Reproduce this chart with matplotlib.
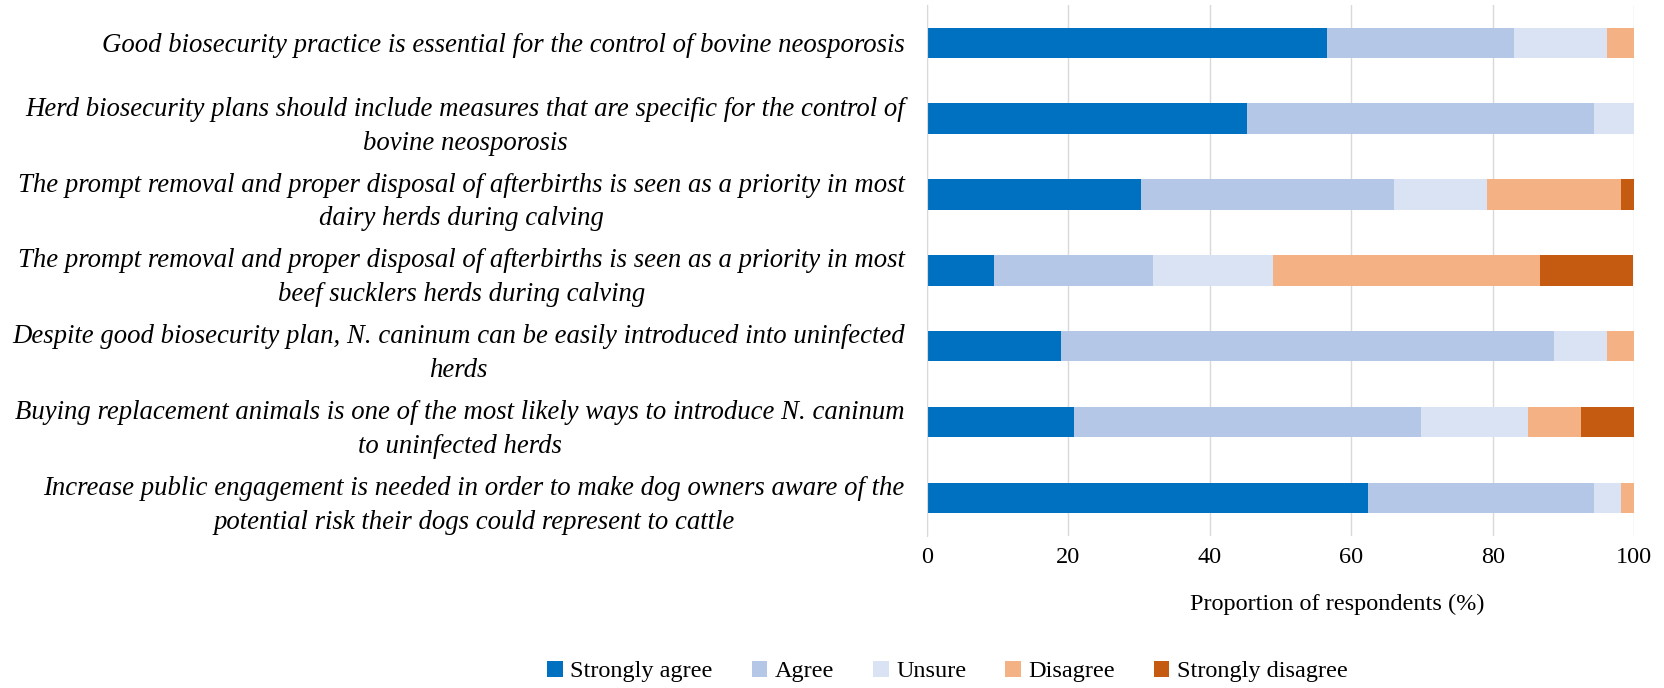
import numpy as np
import matplotlib.pyplot as plt
from matplotlib.patches import Patch

statements = [
    'Good biosecurity practice is essential for the control of bovine neosporosis',
    'Herd biosecurity plans should include measures that are specific for the control of\nbovine neosporosis',
    'The prompt removal and proper disposal of afterbirths is seen as a priority in most\ndairy herds during calving',
    'The prompt removal and proper disposal of afterbirths is seen as a priority in most\nbeef sucklers herds during calving',
    'Despite good biosecurity plan, N. caninum can be easily introduced into uninfected\nherds',
    'Buying replacement animals is one of the most likely ways to introduce N. caninum\nto uninfected herds',
    'Increase public engagement is needed in order to make dog owners aware of the\npotential risk their dogs could represent to cattle',
]

strongly_agree = [56.6, 45.3, 30.2, 9.4, 18.9, 20.8, 62.3]
agree = [26.4, 49.1, 35.8, 22.6, 69.8, 49.1, 32.1]
unsure = [13.2, 5.7, 13.2, 17.0, 7.5, 15.1, 3.8]
disagree = [3.8, 0, 18.9, 37.7, 3.8, 7.5, 1.9]
strongly_disagree = [0, 0, 1.9, 13.2, 0, 7.5, 0]

series = ['Strongly agree', 'Agree', 'Unsure', 'Disagree', 'Strongly disagree']
colors = ['#0070C0', '#B4C7E7', '#DAE3F3', '#F4B183', '#C55A11']

plt.rcParams['font.family'] = ['Liberation Serif', 'DejaVu Serif']

fig = plt.figure(figsize=(16.65, 6.88), dpi=100)
ax = fig.add_axes([0.5568, 0.221, 0.4246, 0.772])

y = np.arange(len(statements))
left = np.zeros(len(statements))
for name, vals, c in zip(series, [strongly_agree, agree, unsure, disagree, strongly_disagree], colors):
    vals = np.array(vals)
    ax.barh(y, vals, left=left, height=0.4, color=c, label=name, zorder=2)
    left += vals

ax.set_xlim(0, 100)
ax.set_ylim(6.5, -0.5)
ax.set_xticks([0, 20, 40, 60, 80, 100])
ax.set_yticks(y)
ax.set_yticklabels(statements, fontsize=19.3, style='italic', multialignment='center', linespacing=1.47)
ax.tick_params(axis='y', length=0, pad=16)
ax.tick_params(axis='x', length=0, pad=8, labelsize=17.5)
ax.grid(axis='x', color='#d9d9d9', linewidth=1, zorder=0)
for s in ['top', 'right', 'bottom']:
    ax.spines[s].set_visible(False)
ax.spines['left'].set_color('#d9d9d9')

fig.text(0.803, 0.122, 'Proportion of respondents (%)', fontsize=17.5, ha='center', va='center')

handles = [Patch(facecolor=c, label=n) for n, c in zip(series, colors)]
fig.legend(handles=handles, loc='center', bbox_to_anchor=(0.569, 0.024), ncol=5, frameon=False,
           fontsize=17.5, handlelength=0.65, handleheight=0.65, handletextpad=0.3, columnspacing=1.6)

fig.savefig('out.png', dpi=100)
